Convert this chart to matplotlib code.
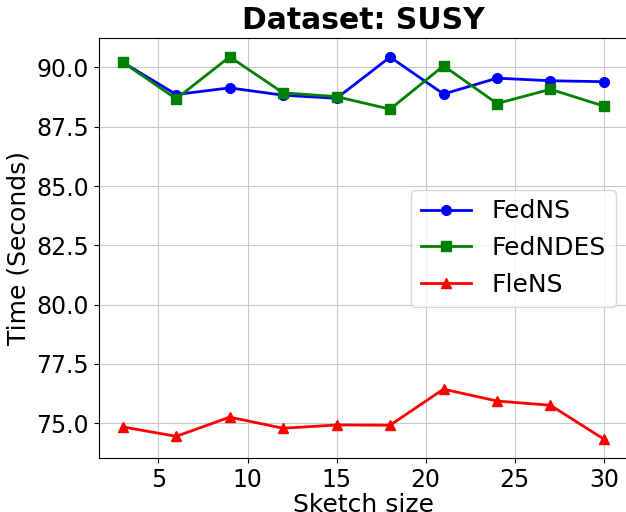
import matplotlib
matplotlib.use("Agg")
import matplotlib.pyplot as plt

sketch_sizes = [3, 6, 9, 12, 15, 18, 21, 24, 27, 30]
fedns = [90.22, 88.86, 89.14, 88.83, 88.70, 90.44, 88.88, 89.55, 89.44, 89.40]
fedndes = [90.22, 88.68, 90.45, 88.93, 88.77, 88.24, 90.07, 88.48, 89.08, 88.37]
flens = [74.84, 74.44, 75.25, 74.78, 74.92, 74.91, 76.43, 75.93, 75.75, 74.32]

fig = plt.figure(figsize=(6.26, 5.12), dpi=100)
ax = fig.add_axes([98.7 / 626, (512 - 458.3) / 512, (628 - 98.7) / 626, (458.3 - 37.7) / 512])

ax.plot(sketch_sizes, fedns, color="blue", marker="o", markersize=7, linewidth=2, label="FedNS")
ax.plot(sketch_sizes, fedndes, color="green", marker="s", markersize=7, linewidth=2, label="FedNDES")
ax.plot(sketch_sizes, flens, color="red", marker="^", markersize=7, linewidth=2, label="FleNS")

ax.grid(True, color="#c8c8c8", linewidth=0.8)
ax.set_axisbelow(True)
ax.tick_params(labelsize=17)
ax.set_xticks([5, 10, 15, 20, 25, 30])
ax.set_yticks([75.0, 77.5, 80.0, 82.5, 85.0, 87.5, 90.0])
ax.set_xlabel("Sketch size", fontsize=18, labelpad=0.5)
ax.set_ylabel("Time (Seconds)", fontsize=18)
ax.set_title("Dataset: SUSY", fontsize=21.5, fontweight="bold")
ax.legend(loc="center right", fontsize=18)

fig.savefig("out.png", dpi=100)
